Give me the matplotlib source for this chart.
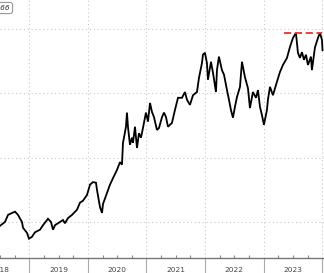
import matplotlib
matplotlib.use("Agg")
import matplotlib.pyplot as plt
import numpy as np

# price series (decimal year, level)
years = [2018.500, 2018.585, 2018.637, 2018.705, 2018.756, 2018.807, 2018.875, 2018.893,
         2018.961, 2018.995, 2019.046, 2019.097, 2019.183, 2019.234, 2019.319, 2019.370,
         2019.404, 2019.439, 2019.524, 2019.575, 2019.609, 2019.660, 2019.729, 2019.814,
         2019.865, 2019.916, 2019.985, 2020.036, 2020.087, 2020.138, 2020.155, 2020.207,
         2020.241, 2020.258, 2020.326, 2020.377, 2020.428, 2020.497, 2020.548, 2020.582,
         2020.599, 2020.616, 2020.650, 2020.667, 2020.684, 2020.718, 2020.753, 2020.770,
         2020.804, 2020.838, 2020.872, 2020.906, 2020.940, 2020.991, 2021.026, 2021.060,
         2021.094, 2021.128, 2021.179, 2021.213, 2021.265, 2021.299, 2021.333, 2021.367,
         2021.435, 2021.486, 2021.538, 2021.606, 2021.657, 2021.691, 2021.742, 2021.794,
         2021.862, 2021.896, 2021.947, 2021.964, 2021.998, 2022.032, 2022.049, 2022.101,
         2022.135, 2022.186, 2022.203, 2022.237, 2022.288, 2022.323, 2022.374, 2022.408,
         2022.442, 2022.476, 2022.510, 2022.544, 2022.596, 2022.630, 2022.681, 2022.732,
         2022.766, 2022.817, 2022.869, 2022.903, 2022.937, 2022.971, 2023.005, 2023.056,
         2023.073, 2023.108, 2023.159, 2023.227, 2023.278, 2023.329, 2023.398, 2023.449,
         2023.500, 2023.551, 2023.585, 2023.619, 2023.654, 2023.688, 2023.722, 2023.756,
         2023.807, 2023.824, 2023.875, 2023.927, 2023.961, 2023.995, 2024.005]
prices = [94, 100, 111, 114, 116, 111, 100, 91,
          83, 74, 77, 84, 88, 95, 105, 100,
          88, 95, 100, 103, 98, 106, 111, 119,
          130, 133, 142, 158, 162, 161, 150, 123,
          114, 128, 145, 158, 168, 181, 193, 189,
          223, 231, 248, 270, 248, 220, 231, 223,
          248, 215, 238, 231, 246, 270, 256, 285,
          271, 263, 243, 246, 263, 270, 263, 248,
          254, 274, 293, 293, 302, 290, 282, 297,
          302, 324, 347, 360, 363, 347, 321, 349,
          332, 302, 336, 357, 336, 329, 305, 290,
          274, 262, 279, 294, 310, 349, 325, 308,
          277, 302, 293, 305, 279, 266, 251, 274,
          290, 310, 297, 318, 333, 344, 355, 372,
          386, 394, 363, 355, 364, 352, 360, 344,
          357, 336, 371, 386, 394, 383, 367]

grid_levels = [100, 200, 300, 400]
year_edges = [2019, 2020, 2021, 2022, 2023, 2024]
year_labels = ["2018", "2019", "2020", "2021", "2022", "2023"]
high_start = 2023.346
last_label = "1.66"

fig = plt.figure(figsize=(3.24, 2.73), dpi=100)
ax = fig.add_axes([0, 15 / 273, 1, 258 / 273])

ax.plot(years, prices, color="black", lw=1.3, solid_joinstyle="miter")
hi = max(prices)
ax.plot([high_start, years[-1] - 0.01], [hi, hi], color="#e8352a", lw=1.3,
        linestyle=(0, (4, 2)))

for g in grid_levels:
    ax.axhline(g, color="#c8c8c8", lw=0.8, linestyle=(0, (1, 2.5)), zorder=0)
for e in year_edges:
    ax.axvline(e, color="#c8c8c8", lw=0.8, linestyle=(0, (1, 2.5)), zorder=0)

for s in ["left", "right", "top"]:
    ax.spines[s].set_visible(False)
ax.spines["bottom"].set_color("#777777")
ax.spines["bottom"].set_linewidth(1.0)

ax.set_yticks([])
ax.set_xticks(year_edges)
ax.set_xticklabels([])
ax.tick_params(axis="x", which="major", direction="out", length=11,
               color="#aaaaaa", width=0.8)
quarters = [y + q for y in range(2018, 2024) for q in (0.25, 0.5, 0.75)]
ax.set_xticks(quarters, minor=True)
ax.tick_params(axis="x", which="minor", direction="in", length=2,
               color="#888888", width=0.8)

ax.set_xlim(2018.5, 2024.03)
ax.set_ylim(44, 445)

for i, lab in enumerate(year_labels):
    ax.text(2018.5 + i, -0.045, lab, transform=ax.get_xaxis_transform(),
            ha="center", va="center", fontsize=5.3, color="#444444")

fig.text(10 / 324, 1 - 8 / 273, last_label, ha="right", va="center",
         fontsize=5.3, color="#333333", style="italic",
         bbox=dict(boxstyle="round,pad=0.35", fc="white", ec="#999999", lw=0.8))

fig.savefig("out.png", dpi=100)
